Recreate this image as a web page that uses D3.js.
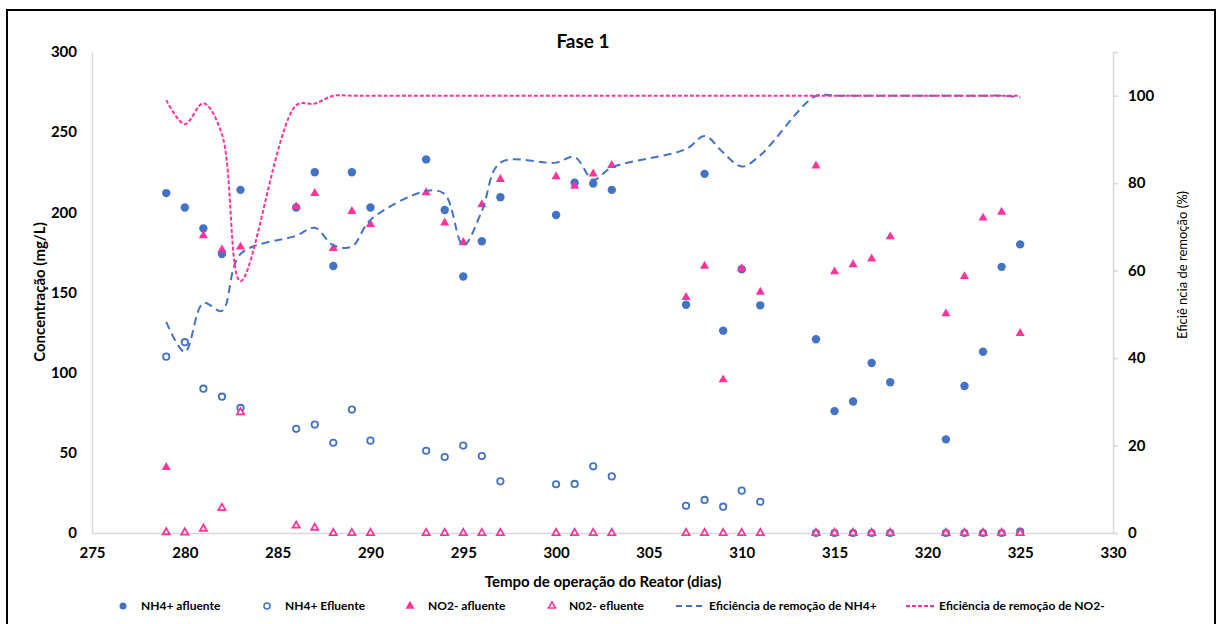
<!DOCTYPE html>
<html>
<head>
<meta charset="utf-8">
<script src="https://cdn.jsdelivr.net/npm/d3@7"></script>
<style>
  html, body { margin: 0; padding: 0; background: #fff; }
  svg { display: block; font-family: Lato, "Open Sans", sans-serif; }
</style>
</head>
<body>
<svg id="chart" width="1217" height="624"></svg>
<script>
// ---- data ----
const days = [279, 280, 281, 282, 283, 286, 287, 288, 289, 290, 293, 294, 295, 296, 297, 300, 301, 302, 303, 307, 308, 309, 310, 311, 314, 315, 316, 317, 318, 321, 322, 323, 324, 325];
const nh4Afluente = [212, 203, 190, 174, 214, 203, 225, 166.5, 225, 203, 233, 201.5, 160, 182, 209.4, 198.3, 218.5, 218, 214, 142.4, 224, 126.2, 164.5, 142, 120.8, 76, 82, 106, 94, 58.4, 91.7, 113, 166, 180];
const nh4Efluente = [110, 119, 90, 85, 78, 65, 67.6, 56.3, 77, 57.6, 51.3, 47.4, 54.5, 48, 32.2, 30.4, 30.6, 41.6, 35.3, 17, 20.6, 16.4, 26.4, 19.5, 0, 0, 0, 0, 0, 0, 0, 0, 0, 0.8];
const no2Afluente = [41, 0.5, 185.5, 176.7, 178.4, 203.5, 211.9, 177.6, 200.6, 192.5, 212.3, 193.5, 181.3, 204.8, 220.6, 222.3, 216.4, 224, 229.3, 147, 166.5, 95.6, 165, 150.3, 229, 163, 167.4, 171, 184.8, 136.8, 160, 196.5, 200.2, 124.5];
const no2Efluente = [0.5, 0.3, 2.7, 15.6, 75.3, 4.6, 3.3, 0, 0, 0, 0, 0, 0, 0, 0, 0, 0, 0, 0, 0, 0, 0, 0, 0, 0, 0, 0, 0, 0, 0, 0, 0, 0, 0];
const effNH4 = [48.3, 41.4, 52.6, 50.8, 63.8, 68, 69.8, 65.8, 65.5, 71.6, 78.2, 77.5, 65.8, 73.6, 84.7, 84.7, 86, 80.8, 83.6, 87.8, 90.8, 87, 83.8, 86.4, 100, 100, 100, 100, 100, 100, 100, 100, 100, 99.6];
const effNO2 = [99, 93.5, 98.3, 91.2, 57.6, 97.8, 98.2, 100, 100, 100, 100, 100, 100, 100, 100, 100, 100, 100, 100, 100, 100, 100, 100, 100, 100, 100, 100, 100, 100, 100, 100, 100, 100, 100];
const xTicks = [275, 280, 285, 290, 295, 300, 305, 310, 315, 320, 325, 330];
const yLeftTicks = [0, 50, 100, 150, 200, 250, 300];
const yRightTicks = [0, 20, 40, 60, 80, 100];
const legendLabels = ["NH4+ afluente", "NH4+ Efluente", "NO2- afluente", "N02- efluente", "Eficiência de remoção de NH4+", "Eficiência de remoção de NO2-"];

// ---- setup ----
const BLUE = "#4472C4", PINK = "#FF3399", AXIS = "#D9D9D9";
const svg = d3.select("#chart");
const L = 92, R = 1113, T = 52, B = 533;
const x = d3.scaleLinear().domain([275, 330]).range([L, R]);
const yL = d3.scaleLinear().domain([0, 300]).range([B, T]);
const yR = d3.scaleLinear().domain([0, 110]).range([B, T]);

svg.append("rect").attr("x", 7).attr("y", 10).attr("width", 1208).attr("height", 622)
  .attr("fill", "#fff").attr("stroke", "#000").attr("stroke-width", 2);

// axes
const gx = svg.append("g").attr("transform", `translate(0,${B})`)
  .call(d3.axisBottom(x).tickValues(xTicks).tickSize(0).tickPadding(14));
const gl = svg.append("g").attr("transform", `translate(${L},0)`)
  .call(d3.axisLeft(yL).tickValues(yLeftTicks).tickSize(0).tickPadding(15));
const gr = svg.append("g").attr("transform", `translate(${R},0)`)
  .call(d3.axisRight(yR).tickValues(yRightTicks).tickSize(5).tickPadding(10));
[gx, gl, gr].forEach(g => {
  g.select(".domain").attr("stroke", AXIS).attr("stroke-width", 1.5);
  g.selectAll(".tick line").attr("stroke", AXIS).attr("stroke-width", 1.5);
  g.selectAll(".tick text").attr("fill", "#000").style("font-size", "15px").style("font-weight", "bold")
    .style("font-family", "Lato, sans-serif");
});

// titles
svg.append("text").attr("x", 583).attr("y", 48).attr("text-anchor", "middle")
  .style("font-size", "19px").style("font-weight", "bold").text("Fase 1");
svg.append("text").attr("x", 603).attr("y", 587).attr("text-anchor", "middle")
  .style("font-size", "15px").style("font-weight", "bold").text("Tempo de operação do Reator (dias)");
svg.append("text").attr("transform", "translate(45,292) rotate(-90)").attr("text-anchor", "middle")
  .style("font-size", "15px").style("font-weight", "bold").text("Concentração (mg/L)");
svg.append("text").attr("transform", "translate(1187,265) rotate(-90)").attr("text-anchor", "middle")
  .style("font-size", "13px").text("Eficiê ncia de remoção (%)");

// series
const tri = d3.symbol().type(d3.symbolTriangle).size(36);
const triO = d3.symbol().type(d3.symbolTriangle).size(22);
const plot = svg.append("g");

plot.selectAll(".nh4a").data(days).join("circle")
  .attr("cx", d => x(d)).attr("cy", (d, i) => yL(nh4Afluente[i])).attr("r", 4.2)
  .attr("fill", BLUE);
plot.selectAll(".nh4e").data(days).join("circle").attr("class", "nh4e")
  .attr("cx", d => x(d)).attr("cy", (d, i) => yL(nh4Efluente[i])).attr("r", 3.2)
  .attr("fill", "#fff").attr("stroke", BLUE).attr("stroke-width", 1.8);
plot.selectAll(".no2a").data(days).join("path").attr("class", "no2a")
  .attr("transform", (d, i) => `translate(${x(d)},${yL(no2Afluente[i])})`)
  .attr("d", tri).attr("fill", PINK);
plot.selectAll(".no2e").data(days).join("path").attr("class", "no2e")
  .attr("transform", (d, i) => `translate(${x(d)},${yL(no2Efluente[i])})`)
  .attr("d", triO).attr("fill", "#fff").attr("stroke", PINK).attr("stroke-width", 1.8);

const smooth = d3.line().x(d => x(d[0])).y(d => yR(d[1])).curve(d3.curveCatmullRom.alpha(0.5));
plot.append("path").datum(days.map((d, i) => [d, effNH4[i]])).attr("d", smooth)
  .attr("fill", "none").attr("stroke", BLUE).attr("stroke-width", 2).attr("stroke-dasharray", "8,5");
plot.append("path").datum(days.map((d, i) => [d, effNO2[i]])).attr("d", smooth)
  .attr("fill", "none").attr("stroke", PINK).attr("stroke-width", 2).attr("stroke-dasharray", "4,2");

// legend
const LY = 606;
const lg = svg.append("g").style("font-size", "12px").style("font-weight", "bold");
const legX = [141, 285, 428, 569, 709, 939];
lg.append("circle").attr("cx", 123).attr("cy", LY).attr("r", 3.5).attr("fill", BLUE);
lg.append("circle").attr("cx", 267).attr("cy", LY).attr("r", 3).attr("fill", "#fff").attr("stroke", BLUE).attr("stroke-width", 1.6);
lg.append("path").attr("transform", `translate(410,${LY})`).attr("d", tri).attr("fill", PINK);
lg.append("path").attr("transform", `translate(552,${LY})`).attr("d", triO).attr("fill", "#fff").attr("stroke", PINK).attr("stroke-width", 1.6);
lg.append("line").attr("x1", 676).attr("x2", 706).attr("y1", LY).attr("y2", LY)
  .attr("stroke", BLUE).attr("stroke-width", 2).attr("stroke-dasharray", "6,4");
lg.append("line").attr("x1", 906).attr("x2", 935).attr("y1", LY).attr("y2", LY)
  .attr("stroke", PINK).attr("stroke-width", 2).attr("stroke-dasharray", "4,2");
lg.selectAll("text.l").data(legendLabels).join("text").attr("class", "l")
  .attr("x", (d, i) => legX[i]).attr("y", LY + 4).text(d => d);
</script>
</body>
</html>
